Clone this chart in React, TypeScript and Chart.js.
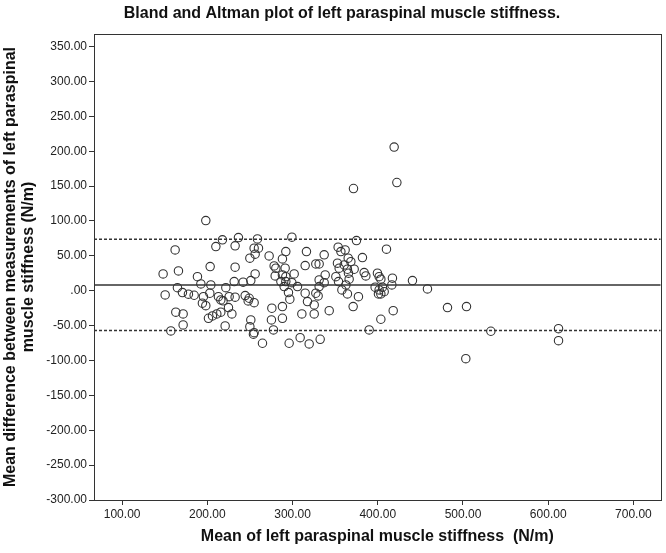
import React, { useEffect, useRef } from "react";
import { Chart, registerables } from "chart.js";

Chart.register(...registerables);

const chartTitle = "Bland and Altman plot of left paraspinal muscle stiffness.";
const xAxisTitle = "Mean of left paraspinal muscle stiffness  (N/m)";
const yAxisTitleLines = ["Mean difference between measurements of left paraspinal", "muscle stiffness (N/m)"];

const xMin = 67;
const xMax = 732;
const yMin = -300;
const yMax = 368;
const xTickValues = [100, 200, 300, 400, 500, 600, 700];
const yTickValues = [-300, -250, -200, -150, -100, -50, 0, 50, 100, 150, 200, 250, 300, 350];

const meanDiff = 8.3;
const upperLoA = 73.8;
const lowerLoA = -57.2;

const meanStiffness = [
  198.2, 217.7, 236.5, 258.8, 162.2, 210.0, 232.6, 254.9, 260.0, 249.9,
  256.1, 272.5, 203.3, 232.6, 166.1, 148.1, 188.4, 192.4, 204.1, 221.7,
  231.5, 242.0, 251.0, 256.1, 278.4, 280.4, 279.6, 164.9, 170.8, 177.8,
  184.5, 150.5, 195.4, 202.9, 213.0, 215.8, 218.5, 225.6, 232.6, 244.4,
  249.1, 254.9, 247.9, 194.2, 198.2, 224.8, 228.8, 215.8, 211.1, 206.0,
  201.3, 163.0, 171.6, 171.6, 157.2, 220.9, 251.0, 249.9, 254.9, 254.1,
  264.7, 275.7, 275.2, 277.6,
  419.2, 422.4, 371.5, 299.2, 375.0, 292.1, 316.3, 353.5, 361.7, 356.7,
  337.1, 410.2, 288.1, 327.3, 331.2, 314.8, 352.7, 365.3, 368.4, 360.6,
  364.4, 372.3, 382.0, 291.3, 288.1, 292.1, 301.9, 286.3, 292.1, 290.1,
  299.2, 305.8, 295.2, 296.8, 314.8, 317.5, 325.4, 331.2, 338.3, 337.1,
  331.2, 327.3, 330.0, 350.8, 354.7, 353.9, 357.9, 362.6, 366.4, 364.4,
  365.6, 384.0, 386.0, 399.6, 401.6, 403.6, 396.9, 405.5, 407.5, 403.6,
  400.8, 417.2, 416.5, 377.3, 371.1, 343.0, 310.9, 325.4, 288.1, 288.1,
  403.6, 418.1, 389.9, 296.0, 308.9, 319.5, 332.4,
  440.7, 458.3, 401.6,
  481.8, 504.1, 532.7, 612.1, 612.1, 503.3,
];

const diffStiffness = [
  100.6, 72.9, 76.2, 74.3, 58.5, 63.3, 64.3, 61.0, 61.0, 46.6,
  52.4, 49.9, 34.6, 33.7, 28.4, 24.1, 20.2, 9.8, 8.3, 4.4,
  13.1, 12.2, 14.5, 24.1, 35.6, 32.3, 21.2, 4.4, -2.7, -5.0,
  -6.5, -6.0, -8.5, -3.6, -8.5, -13.2, -14.5, -8.5, -9.3, -7.0,
  -10.8, -17.1, -14.6, -17.9, -21.4, -24.2, -33.3, -30.8, -33.3, -36.2,
  -39.5, -30.8, -33.3, -49.1, -57.7, -50.5, -41.9, -51.5, -60.1, -62.4,
  -75.3, -25.1, -41.9, -56.2,
  205.9, 155.1, 146.5, 76.8, 71.9, 56.1, 56.1, 62.4, 58.5, 56.1,
  51.4, 59.5, 45.6, 38.4, 38.4, 36.0, 39.5, 46.6, 41.7, 37.0,
  30.8, 30.8, 47.5, 32.3, 22.7, 20.2, 24.1, 13.1, 13.1, 5.9,
  11.6, 5.9, -2.7, -12.2, -3.6, -15.6, -20.4, 15.5, 22.7, 11.6,
  5.9, -3.6, -7.5, 20.2, 32.3, 13.1, 1.1, 8.3, 16.5, -4.6,
  25.1, 26.0, 21.2, 25.1, 20.2, 16.5, 5.0, 5.0, -1.3, -4.6,
  -4.6, 17.9, 8.3, -8.5, -22.8, -28.6, -33.3, -33.3, -39.5, -22.8,
  -40.9, -28.6, -56.2, -75.3, -67.3, -76.3, -69.6,
  14.5, 2.6, 1.1,
  -24.2, -22.8, -58.1, -54.4, -71.6, -97.4,
];

const FONT = '"Liberation Sans", Arial, sans-serif';
const INK = "#222";

function fmt(v: number): string {
  const s = Math.abs(v).toFixed(2);
  const t = s.startsWith("0") ? s.slice(1) : s;
  return (v < 0 ? "-" : "") + t;
}

const frameAndTitles = {
  id: "frameAndTitles",
  afterDraw(chart: any) {
    const { ctx, chartArea } = chart;
    ctx.save();
    ctx.strokeStyle = "#333";
    ctx.lineWidth = 1;
    ctx.strokeRect(
      Math.round(chartArea.left) + 0.5,
      Math.round(chartArea.top) + 0.5,
      Math.round(chartArea.right - chartArea.left),
      Math.round(chartArea.bottom - chartArea.top)
    );
    ctx.fillStyle = "#111";
    ctx.textAlign = "center";
    ctx.textBaseline = "middle";
    ctx.font = `bold 16px ${FONT}`;
    ctx.fillText(chartTitle, 342, 14);
    ctx.font = `bold 16px ${FONT}`;
    ctx.fillText(xAxisTitle, (chartArea.left + chartArea.right) / 2, 537);
    const yc = (chartArea.top + chartArea.bottom) / 2;
    const xs = [11, 29];
    ctx.font = `bold 16px ${FONT}`;
    yAxisTitleLines.forEach((line, i) => {
      ctx.save();
      ctx.translate(xs[i], yc);
      ctx.rotate(-Math.PI / 2);
      ctx.fillText(line, 0, 0);
      ctx.restore();
    });
    ctx.restore();
  },
};

const whiteBg = {
  id: "whiteBg",
  beforeDraw(chart: any) {
    const { ctx, width, height } = chart;
    ctx.save();
    ctx.fillStyle = "#fff";
    ctx.fillRect(0, 0, width, height);
    ctx.restore();
  },
};

export default function App() {
  const ref = useRef<HTMLCanvasElement | null>(null);

  useEffect(() => {
    if (!ref.current) return;
    const points = meanStiffness.map((x, i) => ({ x, y: diffStiffness[i] }));
    const chart = new Chart(ref.current, {
      type: "scatter",
      data: {
        datasets: [
          {
            type: "line",
            data: [
              { x: xMin, y: upperLoA },
              { x: xMax, y: upperLoA },
            ],
            borderColor: "#333",
            borderWidth: 1.5,
            borderDash: [3, 2],
            pointRadius: 0,
            fill: false,
          } as any,
          {
            type: "line",
            data: [
              { x: xMin, y: meanDiff },
              { x: xMax, y: meanDiff },
            ],
            borderColor: "#333",
            borderWidth: 1.5,
            pointRadius: 0,
            fill: false,
          } as any,
          {
            type: "line",
            data: [
              { x: xMin, y: lowerLoA },
              { x: xMax, y: lowerLoA },
            ],
            borderColor: "#333",
            borderWidth: 1.5,
            borderDash: [3, 2],
            pointRadius: 0,
            fill: false,
          } as any,
          {
            data: points,
            pointStyle: "circle",
            pointRadius: 4.2,
            pointBackgroundColor: "rgba(0,0,0,0)",
            pointBorderColor: "#333",
            pointBorderWidth: 1.1,
          } as any,
        ],
      },
      options: {
        animation: false,
        responsive: false,
        maintainAspectRatio: false,
        layout: { padding: { top: 34, right: 4, left: 0, bottom: 0 } },
        plugins: {
          legend: { display: false },
          tooltip: { enabled: false },
          title: { display: false },
        },
        scales: {
          x: {
            type: "linear",
            min: xMin,
            max: xMax,
            afterBuildTicks: (s: any) => {
              s.ticks = xTickValues.map((v) => ({ value: v }));
            },
            afterFit: (s: any) => {
              s.height = 53;
            },
            border: { display: false },
            grid: {
              display: true,
              drawOnChartArea: false,
              drawTicks: true,
              tickLength: 5,
              color: "#333",
            },
            ticks: {
              padding: 2,
              maxRotation: 0,
              autoSkip: false,
              color: INK,
              font: { family: FONT, size: 12 },
              callback: (v: any) => fmt(Number(v)),
            },
          },
          y: {
            type: "linear",
            min: yMin,
            max: yMax,
            afterBuildTicks: (s: any) => {
              s.ticks = yTickValues.map((v) => ({ value: v }));
            },
            afterFit: (s: any) => {
              s.width = 94;
            },
            border: { display: false },
            grid: {
              display: true,
              drawOnChartArea: false,
              drawTicks: true,
              tickLength: 5,
              color: "#333",
            },
            ticks: {
              padding: 2,
              autoSkip: false,
              color: INK,
              font: { family: FONT, size: 12 },
              callback: (v: any) => fmt(Number(v)),
            },
          },
        },
      },
      plugins: [whiteBg, frameAndTitles],
    });
    return () => chart.destroy();
  }, []);

  return (
    <div style={{ position: "absolute", left: 0, top: 0, width: 666, height: 553, background: "#fff" }}>
      <canvas ref={ref} width={666} height={553} style={{ display: "block", width: 666, height: 553 }} />
    </div>
  );
}
